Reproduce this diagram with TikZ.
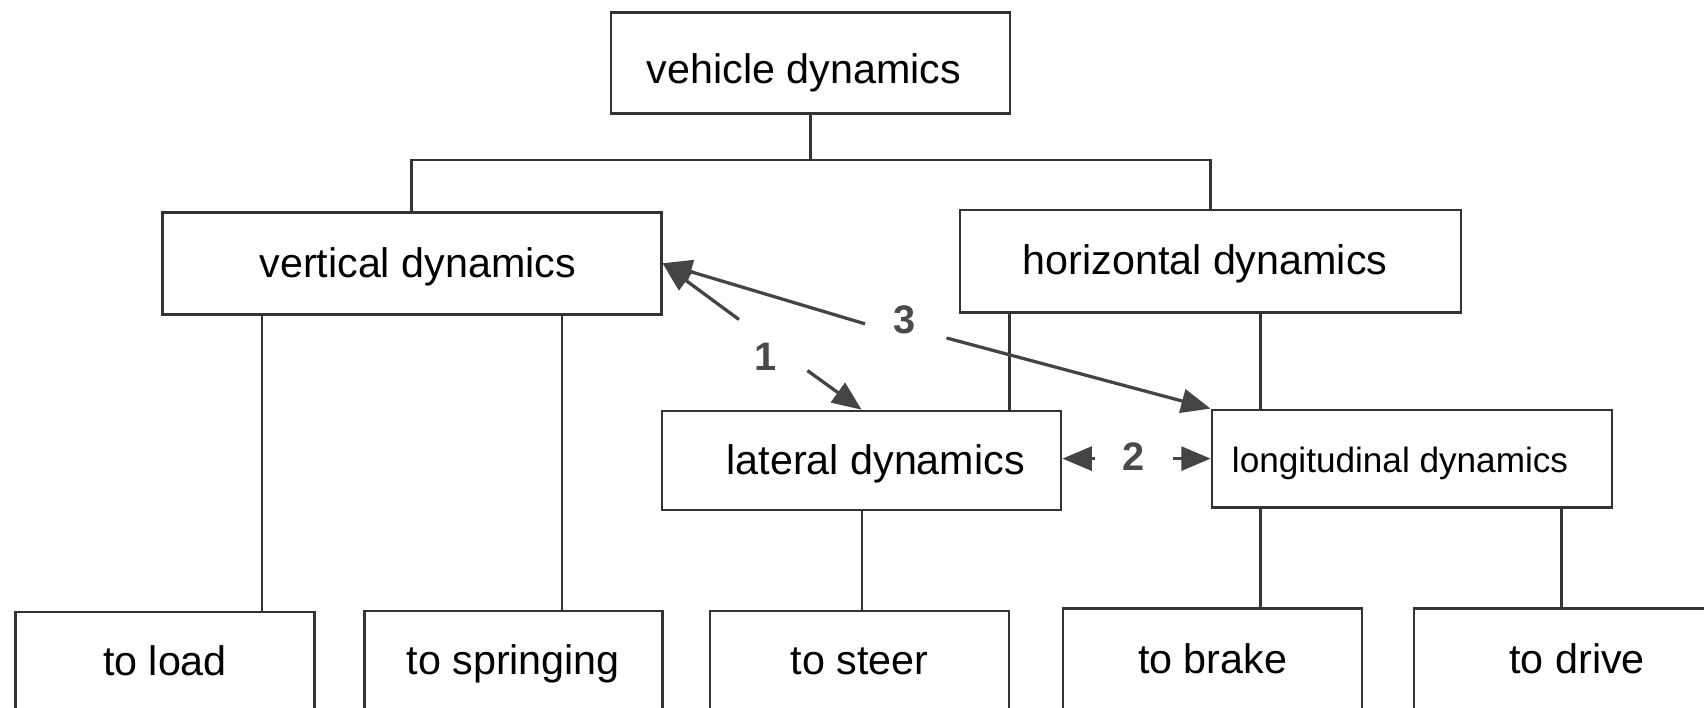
\documentclass[tikz,border=0pt]{standalone}
\usepackage{fontspec}
\setmainfont{Liberation Sans}
\usetikzlibrary{arrows.meta}
\definecolor{boxc}{HTML}{333333}
\definecolor{arrc}{HTML}{444444}
\definecolor{numc}{HTML}{4a4a4a}
\begin{document}
\begin{tikzpicture}[x=0.01cm,y=-0.01cm,
  box/.style={draw=boxc, line width=0.7pt, fill=white, inner sep=0pt, anchor=north west,
              text height=0.72em, text depth=0pt,
              font=\fontsize{10.8}{13}\selectfont},
  link/.style={draw=boxc, line width=0.65pt},
  rel/.style={draw=arrc, line width=0.85pt, -{Triangle[length=0.27cm,width=0.22cm]}},
  num/.style={font=\fontsize{10.4}{12}\selectfont\bfseries, text=numc, inner sep=1pt}]
\useasboundingbox (0,0) rectangle (1568,651);
\clip (0,0) rectangle (1568,651);
% boxes
\node[box, minimum width=3.67cm, minimum height=0.93cm] (vd) at (561,10) {\raisebox{-0.06cm}{vehicle dynamics}\hspace*{0.12cm}};
\node[box, minimum width=4.59cm, minimum height=0.94cm] (ver) at (148,194) {\hspace*{0.11cm}vertical dynamics};
\node[box, minimum width=4.61cm, minimum height=0.94cm] (hor) at (882,192) {horizontal dynamics\hspace*{0.1cm}};
\node[box, minimum width=3.67cm, minimum height=0.91cm] (lat) at (608,377) {\hspace*{0.26cm}lateral dynamics};
\node[box, minimum width=3.68cm, minimum height=0.90cm, font=\fontsize{9.2}{11}\selectfont] (lon) at (1114,376) {longitudinal dynamics\hspace*{0.22cm}};
\node[box, minimum width=2.75cm, minimum height=0.91cm] (load) at (13,562) {to load};
\node[box, minimum width=2.74cm, minimum height=0.92cm] (spr) at (334,561) {to springing};
\node[box, minimum width=2.75cm, minimum height=0.92cm] (steer) at (652,561) {to steer};
\node[box, minimum width=2.75cm, minimum height=0.94cm] (brake) at (977,559) {to brake};
\node[box, minimum width=3.00cm, minimum height=0.94cm] (drive) at (1300,559) {to drive};
% tree connectors
\coordinate (bar) at (0,147);
\draw[link] (vd.south) -- (vd.south |- bar);
\draw[link] (ver.north) -- (ver.north |- bar) -- (hor.north |- bar) -- (hor.north);
\draw[link] (ver.south -| 241,0) -- (load.north -| 241,0);
\draw[link] (ver.south -| 517,0) -- (spr.north -| 517,0);
\draw[link] (hor.south -| 929,0) -- (lat.north -| 929,0);
\draw[link] (hor.south -| 1160,0) -- (lon.north -| 1160,0);
\draw[link] (lat.south -| 793,0) -- (steer.north -| 793,0);
\draw[link] (lon.south -| 1160,0) -- (brake.north -| 1160,0);
\draw[link] (lon.south -| 1437,0) -- (drive.north -| 1437,0);
% relation labels
\node[num] (n1) at (704,328) {1};
\node[num] (n3) at (832,294) {3};
\node[num] (n2) at (1043,420) {2};
\coordinate (t1a) at (680,294);
\coordinate (t1b) at (743,341);
\coordinate (t3a) at (796,298);
\coordinate (t3b) at (871,311);
\coordinate (t2a) at (1008,422);
\coordinate (t2b) at (1079,422);
% relation arrows
\draw[rel] (t1a) -- (ver.east);
\draw[rel] (t1b) -- (lat.north);
\draw[rel] (t3a) -- (ver.east);
\draw[rel] (t3b) -- (lon.north west);
\draw[rel] (t2a) -- (t2a -| lat.east);
\draw[rel] (t2b) -- (t2b -| lon.west);
\end{tikzpicture}
\end{document}
